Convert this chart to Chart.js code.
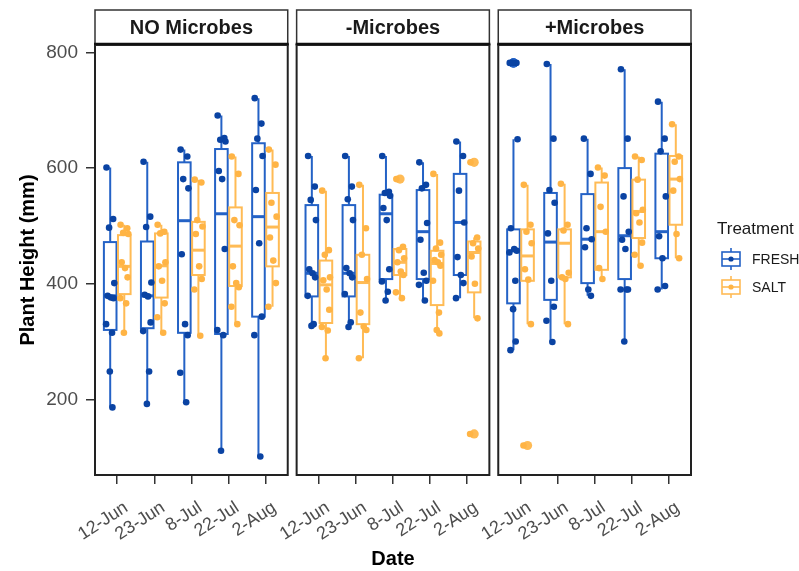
<!DOCTYPE html>
<html><head><meta charset="utf-8">
<script src="https://cdn.jsdelivr.net/npm/chart.js@4/dist/chart.umd.min.js"></script>
<style>html,body{margin:0;padding:0;background:#fff}#wrap{position:relative;width:799px;height:571px}</style>
</head><body><div id="wrap"><canvas id="c" width="799" height="571"></canvas></div>
<script>
const dates = ['12-Jun','23-Jun','8-Jul','22-Jul','2-Aug'];
const panels = ['NO Microbes','-Microbes','+Microbes'];
const treatments = ['FRESH','SALT'];
const yTicks = [200,400,600,800];

// box stats per date: [lowerWhisker, q1, median, q3, upperWhisker]
const noFreshBox = [[186,320,379,472,601],[192,323,379,473,611],[195,315,509,610,632],[111,313,521,633,691],[101,343,516,643,721]];
const noSaltBox  = [[315,382,430,484,502],[315,376,431,487,502],[310,415,458,507,580],[330,396,465,532,620],[360,430,498,557,632]];
const minusFreshBox = [[327,378,418,536,621],[325,378,418,536,621],[371,408,521,554,621],[371,408,490,562,610],[375,415,506,590,646]];
const minusSaltBox  = [[271,332,398,440,561],[271,330,402,450,571],[375,415,437,460,464],[314,363,435,457,590],[340,385,454,473,480]];
const plusFreshBox = [[285,366,457,494,650],[299,372,472,557,780],[379,401,477,555,651],[300,408,483,600,771],[390,444,490,625,715]];
const plusSaltBox  = [[330,405,448,494,571],[330,411,470,494,573],[405,424,490,575,601],[431,479,525,580,620],[444,502,581,621,676]];

// individual plant heights per date
const noFreshPts = [[601,512,497,401,379,376,375,330,315,248,186],[611,516,498,402,381,378,333,318,248,192],[632,620,581,565,451,330,311,246,195],[691,652,649,646,595,581,460,320,311,111],[721,677,651,621,562,470,343,311,101]];
const noSaltPts  = [[502,496,488,486,437,427,411,375,366,315],[502,490,487,437,430,405,366,342,315],[580,575,510,499,486,430,408,390,310],[620,590,510,501,430,401,394,360,330],[632,606,540,516,480,440,401,360]];
const minusFreshPts = [[621,568,545,510,425,418,411,379,330,327],[621,568,546,510,427,418,411,382,333,325],[621,559,557,552,531,510,425,404,386,371],[610,571,565,505,476,419,405,398,371],[646,621,561,506,446,415,401,375]];
const minusSaltPts  = [[561,458,450,411,406,390,355,325,319,271],[571,496,450,408,350,326,320,271],[581,464,458,444,437,421,415,385,375],[590,471,461,450,441,437,431,405,350,320,314],[610,480,470,461,447,400,340,140]];
const plusFreshPts = [[782,782,782,650,496,460,457,454,405,356,300,285],[780,651,562,540,487,405,360,336,299],[651,590,496,477,463,390,379],[771,651,551,490,476,460,390,390,390,300],[715,651,629,551,482,444,396,390]];
const plusSaltPts  = [[571,502,490,470,425,407,330,120],[573,502,492,419,411,408,330],[601,587,533,490,427,408],[620,614,580,528,522,506,471,450,431],[676,620,611,581,561,486,444]];

// ---- layout / style (not data) ----
const PANEL_W = 5.2, GAP = 0.24, EXP = 0.6, DODGE = 0.19, HALF = 0.17;
const JIT = [-0.1,0.08,-0.03,0.11,-0.07,0.02,0.09,-0.11,0.05,-0.01,0.06,-0.08];
const boxCol = ['#2462c6','#ffbb55'];
const ptCol = ['#0a43a3','#ffb445'];
const FONT = "'Liberation Sans', Arial, Helvetica, sans-serif";

const groups = [
  {p:0,t:0,box:noFreshBox,pts:noFreshPts},{p:0,t:1,box:noSaltBox,pts:noSaltPts},
  {p:1,t:0,box:minusFreshBox,pts:minusFreshPts},{p:1,t:1,box:minusSaltBox,pts:minusSaltPts},
  {p:2,t:0,box:plusFreshBox,pts:plusFreshPts},{p:2,t:1,box:plusSaltBox,pts:plusSaltPts}
];
const catX = (p,i) => p*(PANEL_W+GAP) + EXP + i;
const xTickVals = [];
panels.forEach((_,p)=>dates.forEach((_,i)=>xTickVals.push(catX(p,i))));

const datasets = groups.map(g => {
  const data = [];
  g.pts.forEach((arr,i) => arr.forEach((v,k) => {
    data.push({x: catX(g.p,i) + (g.t===0?-DODGE:DODGE) + JIT[k%JIT.length], y: v});
  }));
  return {label: panels[g.p]+' '+treatments[g.t], data, pointRadius:3.3, pointBackgroundColor: ptCol[g.t], pointBorderWidth:0, showLine:false};
});

const boxPlugin = {
  id:'boxes',
  beforeDatasetsDraw(chart){
    const ctx = chart.ctx, xs = chart.scales.x, ys = chart.scales.y;
    ctx.save();
    groups.forEach(g => {
      g.box.forEach((b,i) => {
        const c = catX(g.p,i) + (g.t===0?-DODGE:DODGE);
        const xc = xs.getPixelForValue(c), xl = xs.getPixelForValue(c-HALF), xr = xs.getPixelForValue(c+HALF);
        const [lo,q1,md,q3,hi] = b.map(v=>ys.getPixelForValue(v));
        ctx.strokeStyle = boxCol[g.t]; ctx.lineWidth = 2;
        ctx.beginPath(); ctx.moveTo(xc,q3); ctx.lineTo(xc,hi); ctx.moveTo(xc,q1); ctx.lineTo(xc,lo); ctx.stroke();
        ctx.fillStyle = '#fff';
        ctx.fillRect(xl,q3,xr-xl,q1-q3);
        ctx.strokeRect(xl,q3,xr-xl,q1-q3);
        ctx.lineWidth = 3;
        ctx.beginPath(); ctx.moveTo(xl,md); ctx.lineTo(xr,md); ctx.stroke();
        ctx.fillStyle = boxCol[g.t];
        g.pts[i].forEach(v => { if (v > b[4] || v < b[0]) { ctx.beginPath(); ctx.arc(xc, ys.getPixelForValue(v), 4.6, 0, Math.PI*2); ctx.fill(); } });
      });
    });
    ctx.restore();
  },
  afterDatasetsDraw(chart){
    const ctx = chart.ctx, xs = chart.scales.x, a = chart.chartArea;
    ctx.save();
    panels.forEach((name,p) => {
      const l = xs.getPixelForValue(p*(PANEL_W+GAP)), r = xs.getPixelForValue(p*(PANEL_W+GAP)+PANEL_W);
      ctx.strokeStyle = '#222'; ctx.lineWidth = 2;
      ctx.strokeRect(l, a.top, r-l, a.bottom-a.top);
      ctx.lineWidth = 1.5; ctx.strokeStyle = '#333';
      ctx.fillStyle = '#fff';
      ctx.fillRect(l, 10, r-l, a.top-12);
      ctx.strokeRect(l, 10, r-l, a.top-10);
      ctx.lineWidth = 2.5; ctx.strokeStyle='#111';
      ctx.beginPath(); ctx.moveTo(l-1,a.top-1); ctx.lineTo(r+1,a.top-1); ctx.stroke();
      ctx.fillStyle = '#1a1a1a'; ctx.font = "bold 20px "+FONT;
      ctx.textAlign='center'; ctx.textBaseline='middle';
      ctx.fillText(name, (l+r)/2, 28);
    });
    ctx.textAlign='left'; ctx.textBaseline='middle';
    ctx.fillStyle='#1a1a1a'; ctx.font = "17px "+FONT;
    ctx.fillText('Treatment', 717, 229);
    treatments.forEach((t,k) => {
      const cy = 259 + k*28, cx = 731;
      ctx.strokeStyle = boxCol[k]; ctx.lineWidth = 1.6;
      ctx.beginPath(); ctx.moveTo(cx,cy-11); ctx.lineTo(cx,cy-7); ctx.moveTo(cx,cy+7); ctx.lineTo(cx,cy+11); ctx.stroke();
      ctx.strokeRect(cx-9, cy-7, 18, 14);
      ctx.beginPath(); ctx.moveTo(cx-9,cy); ctx.lineTo(cx+9,cy); ctx.stroke();
      ctx.fillStyle = ptCol[k]; ctx.beginPath(); ctx.arc(cx,cy,2.6,0,Math.PI*2); ctx.fill();
      ctx.fillStyle='#1a1a1a'; ctx.font = "14px "+FONT;
      ctx.fillText(t, 752, cy+1);
    });
    ctx.restore();
  }
};

new Chart(document.getElementById('c'), {
  type:'scatter',
  data:{datasets},
  options:{
    responsive:false, animation:false, devicePixelRatio:1,
    layout:{padding:{top:45, right:108, left:0, bottom:0}},
    plugins:{legend:{display:false}, tooltip:{enabled:false}},
    scales:{
      x:{type:'linear', min:0, max:3*PANEL_W+2*GAP,
        afterBuildTicks: s => { s.ticks = xTickVals.map(v=>({value:v})); },
        afterFit: s => { s.height = 96; },
        ticks:{autoSkip:false, minRotation:33, maxRotation:33, padding:13, labelOffset:9, color:'#4d4d4d', font:{family:FONT, size:18},
          callback:(v,i)=>dates[i%dates.length]},
        grid:{drawOnChartArea:false, drawTicks:true, tickLength:9, color:'#333', lineWidth:1.5},
        border:{display:false},
        title:{display:true, text:'Date', color:'#000', font:{family:FONT, size:20, weight:'bold'}, padding:{top:0,bottom:0}}
      },
      y:{type:'linear', min:69, max:813,
        afterBuildTicks: s => { s.ticks = yTicks.map(v=>({value:v})); },
        afterFit: s => { s.width = 95; },
        ticks:{padding:8, color:'#4d4d4d', font:{family:FONT, size:19}},
        grid:{drawOnChartArea:false, drawTicks:true, tickLength:9, color:'#333', lineWidth:1.5},
        border:{display:false},
        title:{display:true, text:'Plant Height (mm)', color:'#000', font:{family:FONT, size:20, weight:'bold'}, padding:{top:16,bottom:0}}
      }
    }
  },
  plugins:[boxPlugin]
});
</script></body></html>
